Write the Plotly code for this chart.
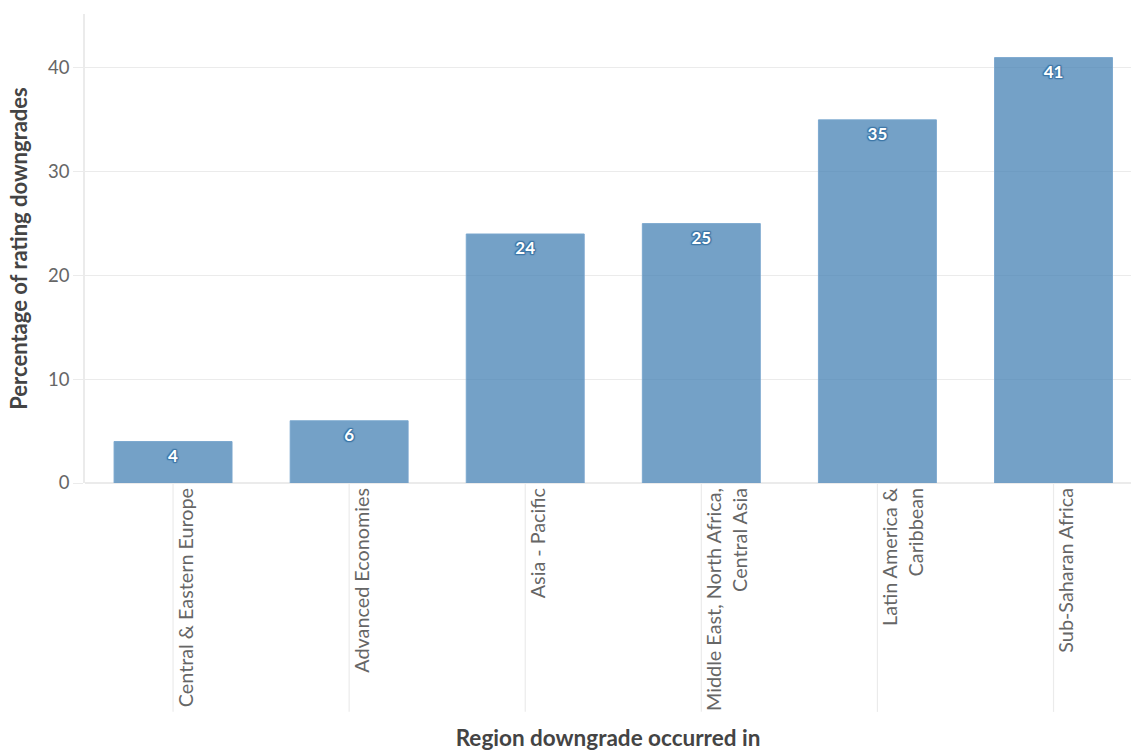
import plotly.graph_objects as go

regions = [
    "Central & Eastern Europe",
    "Advanced Economies",
    "Asia - Pacific",
    "Middle East, North Africa,<br>Central Asia",
    "Latin America &<br>Caribbean",
    "Sub-Saharan Africa",
]
tick_text = [
    "Central & Eastern Europe<br>&nbsp;",
    "Advanced Economies<br>&nbsp;",
    "Asia - Pacific<br>&nbsp;",
    "Middle East, North Africa,<br>Central Asia",
    "Latin America &<br>Caribbean",
    "Sub-Saharan Africa<br>&nbsp;",
]
pct_downgrades = [4, 6, 24, 25, 35, 41]
y_ticks = [0, 10, 20, 30, 40]

FONT = "Lato, 'Source Sans Pro', 'Open Sans', sans-serif"
outline = "#3f78a8"
shadow = ", ".join(f"{dx}px {dy}px 1px {outline}" for dx, dy in
                   [(1, 1), (-1, -1), (1, -1), (-1, 1), (0, 1), (1, 0), (0, -1), (-1, 0)])

fig = go.Figure(go.Bar(
    x=regions,
    y=pct_downgrades,
    marker=dict(color="rgba(70,130,180,0.75)", line=dict(color="rgba(120,165,205,0.9)", width=1)),
    text=[str(v) for v in pct_downgrades],
    textposition="inside",
    insidetextanchor="end",
    textangle=0,
    textfont=dict(family=FONT, size=17, color="white", weight="bold", shadow=shadow),
    cliponaxis=False,
))

shapes = [
    dict(type="line", xref="x", yref="paper", x0=r, x1=r, y0=0, y1=-0.488,
         line=dict(color="#ebebeb", width=1.2), layer="below")
    for r in regions
]

fig.update_layout(
    width=1131, height=751,
    margin=dict(l=85, r=0, t=14, b=268, autoexpand=False),
    paper_bgcolor="white", plot_bgcolor="white",
    font=dict(family=FONT, size=18, color="#666"),
    bargap=0.33,
    showlegend=False,
    shapes=shapes,
    xaxis=dict(
        range=[-0.5, 5.44],
        tickmode="array", tickvals=regions, ticktext=tick_text,
        tickangle=-90, ticks="", ticklabelshift=26,
        tickfont=dict(size=19.8, color="#666"),
        showgrid=False, zeroline=False, showline=False,
        automargin=False,
        title=dict(text="<b>Region downgrade occurred in</b>",
                   font=dict(size=22.5, color="#444"), standoff=20),
    ),
    yaxis=dict(
        range=[0, 45.2],
        tickmode="array", tickvals=y_ticks,
        ticks="outside", ticklen=10, tickcolor="#ebebeb",
        tickfont=dict(size=18.5, color="#666"),
        showgrid=True, gridcolor="#ebebeb", gridwidth=1.2,
        zeroline=True, zerolinecolor="#ebebeb", zerolinewidth=1.5,
        showline=True, linecolor="#ebebeb", linewidth=1.5,
        automargin=False,
        title=dict(text="<b>Percentage of rating downgrades</b>",
                   font=dict(size=22, color="#444"), standoff=14),
    ),
)

fig.write_html("out.html")
